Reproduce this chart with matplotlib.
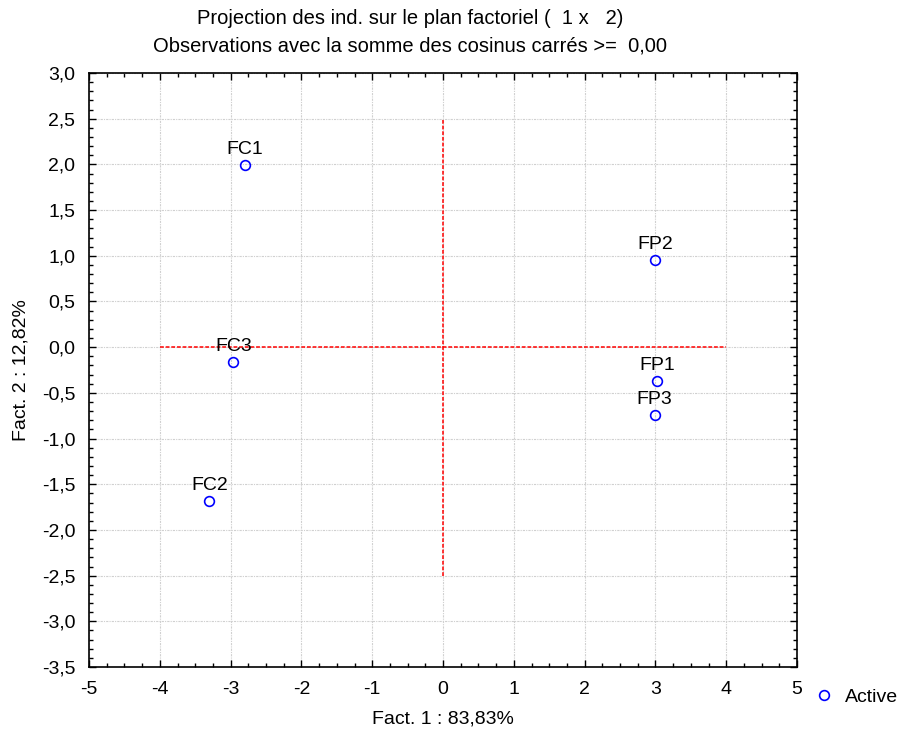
import numpy as np
import matplotlib.pyplot as plt
from matplotlib.ticker import MultipleLocator, FuncFormatter

plt.rcParams['font.family'] = ['Liberation Sans', 'DejaVu Sans']

# coordinates of the individuals on factor 1 x factor 2
names = ['FC1', 'FC3', 'FC2', 'FP2', 'FP1', 'FP3']
fact1 = [-2.80, -2.96, -3.30, 3.00, 3.02, 2.99]
fact2 = [1.99, -0.16, -1.68, 0.95, -0.37, -0.74]

fig = plt.figure(figsize=(9.02, 7.33), dpi=100)
ax = fig.add_axes([0.0987, 0.090, 0.7849, 0.8104])

ax.grid(True, which='major', color='#d0d0d0', linestyle=(0, (2, 1, 1, 1)), linewidth=0.8)
ax.set_axisbelow(True)

# origin lines
ax.plot([-4, 4], [0, 0], color='#ff0000', linestyle=(0, (2.5, 1.2)), linewidth=1.1)
ax.plot([0, 0], [-2.5, 2.5], color='#ff0000', linestyle=(0, (2.5, 1.2)), linewidth=1.1)

ax.plot(fact1, fact2, 'o', markerfacecolor='none', markeredgecolor='blue',
        markersize=7, markeredgewidth=1.2, linestyle='none', label='Active')
for n, x, y in zip(names, fact1, fact2):
    ax.annotate(n, (x, y), xytext=(0, 5), textcoords='offset points',
                ha='center', va='bottom', fontsize=14)

ax.set_xlim(-5, 5)
ax.set_ylim(-3.5, 3.0)
ax.xaxis.set_major_locator(MultipleLocator(1))
ax.xaxis.set_minor_locator(MultipleLocator(0.25))
ax.yaxis.set_major_locator(MultipleLocator(0.5))
ax.yaxis.set_minor_locator(MultipleLocator(0.1))
ax.yaxis.set_major_formatter(FuncFormatter(lambda v, p: ('%.1f' % v).replace('.', ',').replace('−', '-')))
ax.xaxis.set_major_formatter(FuncFormatter(lambda v, p: '%d' % round(v)))
ax.tick_params(which='both', direction='in', top=True, right=True, labelsize=14, width=1)
ax.tick_params(which='major', length=5, pad=10)
ax.tick_params(which='minor', length=3)
for s in ax.spines.values():
    s.set_linewidth(1.2)

ax.set_xlabel('Fact. 1 : 83,83%', fontsize=14, labelpad=9)
ax.set_ylabel('Fact. 2 : 12,82%', fontsize=14, labelpad=9)
fig.text(0.455, 1 - 32.5 / 733,
         'Projection des ind. sur le plan factoriel (  1 x   2)\n'
         'Observations avec la somme des cosinus carrés >=  0,00',
         fontsize=14.5, ha='center', va='center', linespacing=1.55)

ax.legend(loc='center left', bbox_to_anchor=(1.01, -0.05), frameon=False,
          fontsize=14, handletextpad=0.5, borderaxespad=0, handlelength=1.2)

fig.savefig('out.png', dpi=100)
